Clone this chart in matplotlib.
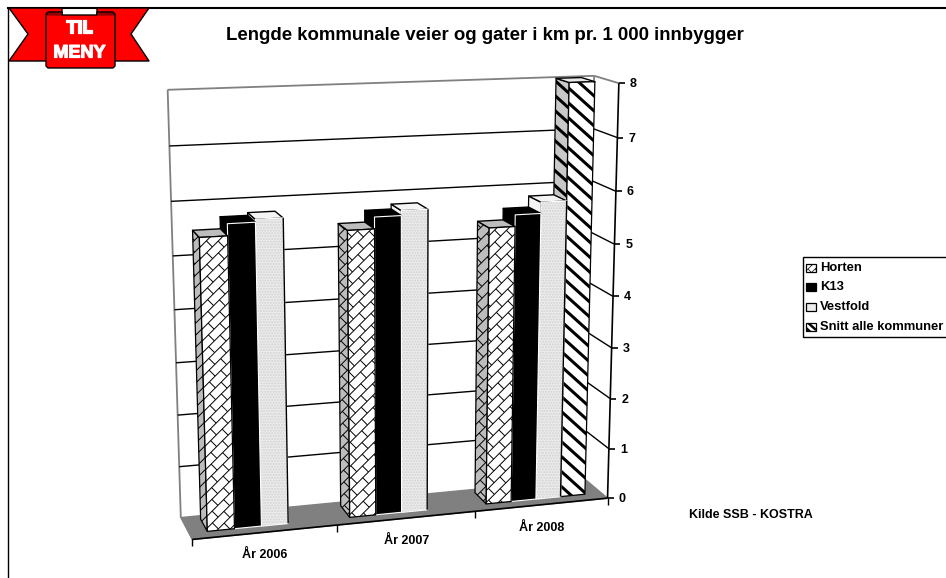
#!/usr/bin/env python3

# Pseudo 3D bar chart, drawn in pixel space through a fitted camera

import numpy as np
import matplotlib
matplotlib.use("Agg")
from matplotlib import pyplot as plt
from matplotlib.patches import Polygon, Rectangle
from matplotlib.collections import LineCollection
import matplotlib.patheffects as pe

plt.rcParams['font.family'] = ['Liberation Sans', 'DejaVu Sans']
plt.rcParams['font.weight'] = 'bold'

W, H = 946, 578

title = "Lengde kommunale veier og gater i km pr. 1 000 innbygger"
years = ["År 2006", "År 2007", "År 2008"]
series = ["Horten", "K13", "Vestfold", "Snitt alle kommuner"]
horten = [5.49, 5.47, 5.37]
k13 = [5.71, 5.69, 5.59]
vestfold = [5.76, 5.78, 5.8]
snitt = [None, None, 8.0]
yticks = [0, 1, 2, 3, 4, 5, 6, 7, 8]
source = "Kilde SSB - KOSTRA"

# chart box corners (u, depth, value) -> pixel, used to fit the camera
corners = [
    ((0, 0, 0), (181, 517)), ((1, 0, 0), (585, 479)),
    ((0, 0, 8), (167, 90)), ((1, 0, 8), (594, 76)),
    ((0, 1, 0), (192, 540)), ((1, 1, 0), (607, 498)),
    ((0, 1, 8), (180, 98)), ((1, 1, 8), (619, 83)),
]

A, b = [], []
for (u, d, v), (px, py) in corners:
    A.append([u, d, v, 1, 0, 0, 0, 0, -px*u, -px*d, -px*v])
    b.append(px)
    A.append([0, 0, 0, 0, u, d, v, 1, -py*u, -py*d, -py*v])
    b.append(py)
cam = np.linalg.lstsq(np.array(A, float), np.array(b, float), rcond=None)[0]
cam = np.append(cam, 1).reshape(3, 4)


def proj(u, d, v):
    p = cam @ np.array([u, d, v, 1.0])
    return p[0]/p[2], p[1]/p[2]


fig = plt.figure(figsize=(W/100, H/100), dpi=100)
ax = fig.add_axes([0, 0, 1, 1])
ax.set_xlim(0, W)
ax.set_ylim(H, 0)
ax.axis("off")


def line(p, q, c="k", lw=1.0, z=2):
    ax.plot([p[0], q[0]], [p[1], q[1]], c=c, lw=lw, zorder=z, solid_capstyle="butt")


def clipped_lines(poly, segs, lw, z, c="k"):
    lc = LineCollection(segs, colors=c, linewidths=lw, zorder=z)
    ax.add_collection(lc)
    lc.set_clip_path(poly)


def stripes(poly, z, step=15.0, lw=2.2):
    xy = poly.get_xy()
    x0, x1 = xy[:, 0].min(), xy[:, 0].max()
    y0, y1 = xy[:, 1].min(), xy[:, 1].max()
    segs = []
    for c in np.arange(y0 - (x1 - x0)*0.9 - step, y1 + step, step):
        segs.append([(x0, c), (x1, c + (x1 - x0)*0.9)])
    clipped_lines(poly, segs, lw, z)


def bricks(poly, z, row=12.0, period=23.0, lw=0.7):
    xy = poly.get_xy()
    x0, x1 = xy[:, 0].min(), xy[:, 0].max()
    y0, y1 = xy[:, 1].min(), xy[:, 1].max()
    segs = []
    a0 = np.floor((x0 - y1)/period)*period
    # rising rows of bricks, each row shifted half a brick
    for i in range(int((y1 - y0 + x1 - x0)/row) + 3):
        c = y0 + i*row
        segs.append([(x0, c), (x1 + 5, c - (x1 + 5 - x0))])
        for k in range(int((x1 - x0 + y1 - y0)/period) + 3):
            a = a0 + k*period + (i % 2)*period/2
            sx = (a + c + x0)/2
            sy = sx - a
            segs.append([(sx, sy), (sx + row/2, sy + row/2)])
    clipped_lines(poly, segs, lw, z)


def face(pts, fc, z, ec="k", lw=1.0, hatch=None, hc=None):
    poly = Polygon(pts, closed=True, fc=fc, ec=ec, lw=lw, zorder=z, joinstyle="round")
    ax.add_patch(poly)
    if hatch is not None:
        speck = Polygon(pts, closed=True, fc="none", ec=hc, lw=0, hatch=hatch, zorder=z)
        ax.add_patch(speck)
    return poly


# floor
face([proj(0, 0, 0), proj(1, 0, 0), proj(1, 1, 0), proj(0, 1, 0)], "#808080", 1, ec="#808080")

# back wall frame
line(proj(0, 0, 0), proj(0, 0, 8), "#808080", 1.3)
line(proj(0, 0, 8), proj(1, 0, 8), "#808080", 1.3)
line(proj(1, 0, 0), proj(1, 0, 8), "#808080", 1.3)
line(proj(1, 0, 8), proj(1, 1, 8), "#808080", 1.3)

for v in yticks[1:-1]:
    line(proj(0, 0, v), proj(1, 0, v), "k", 1.0)
    line(proj(1, 0, v), proj(1, 1, v), "k", 1.0)

# front edge, right axis and ticks
line(proj(0, 1, 0), proj(1, 1, 0), "k", 1.2, 3)
line(proj(1, 1, 0), proj(1, 1, 8), "k", 1.2, 3)
for v in yticks:
    x, y = proj(1, 1, v)
    line((x, y), (x + 6, y), "k", 1.2, 3)
    ax.text(x + 11, y + 1, str(v), fontsize=9, ha="left", va="center", zorder=5)

for i in range(len(years) + 1):
    x, y = proj(i/len(years), 1, 0)
    line((x, y), (x, y + 7), "k", 1.0, 3)
for i, lab in enumerate(years):
    x, y = proj((i + 0.5)/len(years), 1, 0)
    ax.text(x, y + 23, lab, fontsize=9, ha="center", va="center", zorder=5)

# bars, right ones first because the left bars hide their side faces
gap, bw = 0.042, 0.0625
d0, d1 = 0.16, 0.72
values = [horten, k13, vestfold, snitt]
styles = [
    ("white", "#bdbdbd", "#bdbdbd"),
    ("black", "black", "black"),
    ("#ececec", "#f4f4f4", "#f4f4f4"),
    ("white", "#c8c8c8", "#e8e8e8"),
]
for i in range(len(years)):
    for j, vals in enumerate(values):
        v = vals[i]
        if v is None:
            continue
        u0 = i/len(years) + gap + j*bw
        u1 = u0 + bw
        z = 100 - j*4 - i*20
        fc, side_c, top_c = styles[j]
        side = [proj(u0, d0, 0), proj(u0, d1, 0), proj(u0, d1, v), proj(u0, d0, v)]
        top = [proj(u0, d0, v), proj(u1, d0, v), proj(u1, d1, v), proj(u0, d1, v)]
        front = [proj(u0, d1, 0), proj(u1, d1, 0), proj(u1, d1, v), proj(u0, d1, v)]
        p = face(side, side_c, z, ec="k", lw=0.9)
        if j == 0:
            bricks(p, z + 0.1)
        if j == 3:
            stripes(p, z + 0.1)
        face(top, top_c, z + 0.5, ec="k", lw=1.0)
        if j == 2:
            p = face(front, fc, z + 1, ec="white", lw=1.0, hatch="......", hc="#d2d2d2")
            line(proj(u1, d1, 0), proj(u1, d1, v), "k", 1.0, z + 2)
        elif j == 1:
            p = face(front, fc, z + 1, ec="white", lw=0.8)
        else:
            p = face(front, fc, z + 1, ec="k", lw=0.9)
        if j == 0:
            bricks(p, z + 1.1)
        if j == 3:
            stripes(p, z + 1.1)

# page frame
ax.plot([8, 8], [H, 8], c="k", lw=1.0, zorder=130)
ax.plot([8, W], [8, 8], c="k", lw=1.5, zorder=130)

ax.text(485, 35, title, fontsize=13.4, ha="center", va="center")
ax.text(751, 515, source, fontsize=9, ha="center", va="center")

# legend
ax.add_patch(Rectangle((802.5, 256.5), 145, 80.5, fc="white", ec="k", lw=1.0, zorder=120))
leg_y = [268, 287, 307, 327]
for name, y, j in zip(series, leg_y, range(4)):
    box = Polygon([(806, y-4), (816, y-4), (816, y+4), (806, y+4)], closed=True,
                  fc=styles[j][0], ec="k", lw=0.9, zorder=121)
    ax.add_patch(box)
    if j == 0:
        bricks(box, 121.1, row=7, period=14, lw=0.5)
    if j == 3:
        stripes(box, 121.1, step=7, lw=1.8)
    ax.text(820, y, name, fontsize=9.4, ha="left", va="center", zorder=121)

# TIL MENY ribbon
red = "#ff0000"
face([(9, 8), (62, 8), (62, 61), (9, 61), (28, 34)], red, 131)
face([(149, 8), (97, 8), (97, 61), (149, 61), (131, 34)], red, 131)
face([(46, 14), (48, 12), (62, 12), (62, 15), (97, 15), (97, 12), (113, 12), (115, 14),
      (115, 66), (113, 68), (48, 68), (46, 66)], red, 132)
face([(47, 15), (48, 13), (62, 13), (62, 15)], "#cc0000", 133, lw=0.4)
face([(114, 15), (113, 13), (97, 13), (97, 15)], "#cc0000", 133, lw=0.4)
white = [pe.withStroke(linewidth=0.9, foreground="white")]
ax.text(79.5, 28, "TIL", fontsize=13, color="white", ha="center", va="center",
        zorder=134, path_effects=white)
ax.text(79.5, 53, "MENY", fontsize=13, color="white", ha="center", va="center",
        zorder=134, path_effects=white)

plt.savefig("out.png", dpi=100)
